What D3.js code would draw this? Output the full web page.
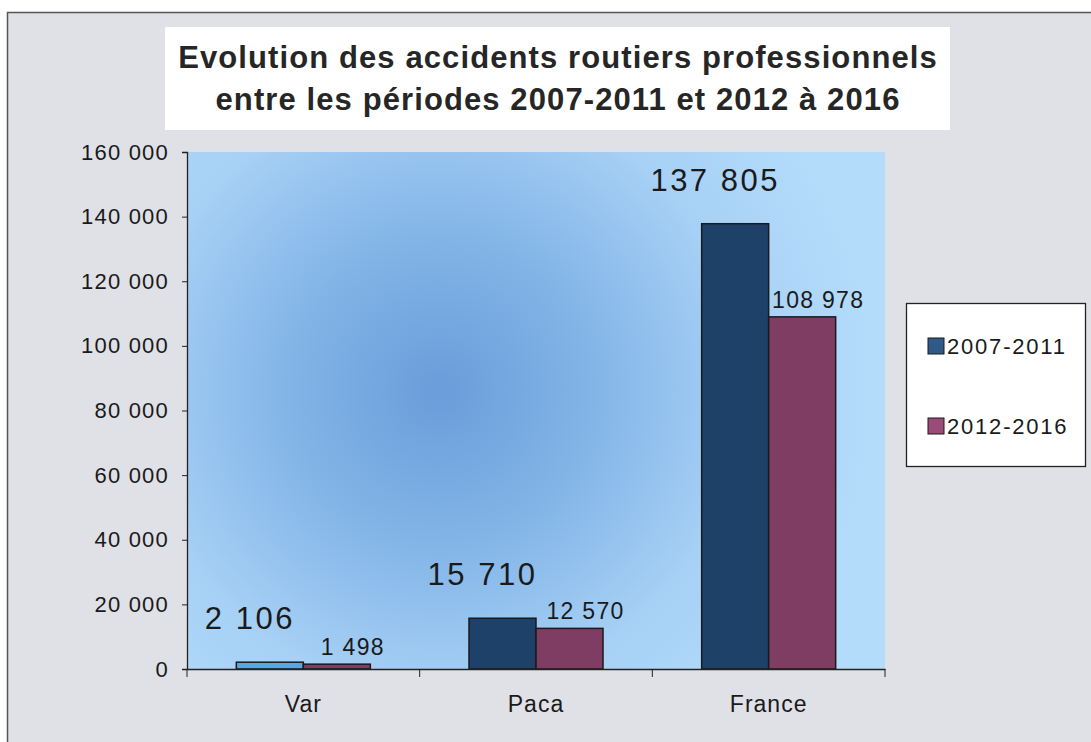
<!DOCTYPE html>
<html>
<head>
<meta charset="utf-8">
<script src="https://cdn.jsdelivr.net/npm/d3@7.9.0/dist/d3.min.js"></script>
<style>
  body { margin: 0; background: #fff; }
  svg { display: block; font-family: "Liberation Sans", Arial, sans-serif; }
</style>
</head>
<body>
<svg id="chart" width="1091" height="742"></svg>
<script>
const categories = ['Var', 'Paca', 'France'];
const series = ['2007-2011', '2012-2016'];
const values2007 = [2106, 15710, 137805];
const values2012 = [1498, 12570, 108978];
const yTicks = [0, 20000, 40000, 60000, 80000, 100000, 120000, 140000, 160000];
const titleLines = ['Evolution des accidents routiers professionnels', 'entre les périodes 2007-2011 et 2012 à 2016'];

const colors = ['#1e4169', '#7f3d63'];
const legendColors = ['#2f5a88', '#9a4b78'];

const svg = d3.select('#chart');
const font = '"Liberation Sans", Arial, sans-serif';

// fond gris + cadre
svg.append('rect')
  .attr('x', 7.5).attr('y', 12.5)
  .attr('width', 1100).attr('height', 740)
  .attr('fill', '#dfe1e6')
  .attr('stroke', '#555').attr('stroke-width', 1.5);

const margin = { left: 187, right: 885, top: 152, bottom: 669 };

const x0 = d3.scaleBand().domain(categories).range([margin.left, margin.right]);
const barW = 67;
const x1 = d3.scaleBand().domain(series).range([0, barW * 2]);
const y = d3.scaleLinear().domain([0, 160000]).range([margin.bottom, margin.top]);

// fond du graphique en dégradé radial
const defs = svg.append('defs');
const grad = defs.append('radialGradient')
  .attr('id', 'plotbg')
  .attr('gradientUnits', 'userSpaceOnUse')
  .attr('cx', 440).attr('cy', 390).attr('r', 430);
grad.append('stop').attr('offset', '0%').attr('stop-color', '#6a9dd9');
grad.append('stop').attr('offset', '35%').attr('stop-color', '#82b4e7');
grad.append('stop').attr('offset', '70%').attr('stop-color', '#a6d0f5');
grad.append('stop').attr('offset', '100%').attr('stop-color', '#b3dbfa');

svg.append('rect')
  .attr('x', margin.left).attr('y', margin.top)
  .attr('width', margin.right - margin.left)
  .attr('height', margin.bottom - margin.top)
  .attr('fill', 'url(#plotbg)');

// titre
svg.append('rect')
  .attr('x', 165).attr('y', 27)
  .attr('width', 785).attr('height', 103)
  .attr('fill', '#fff');
svg.append('g').selectAll('text')
  .data(titleLines)
  .join('text')
  .attr('x', 558)
  .attr('y', (d, i) => 68 + i * 42)
  .attr('text-anchor', 'middle')
  .attr('font-size', 31)
  .attr('font-weight', 'bold')
  .attr('letter-spacing', 1.1)
  .attr('fill', '#262626')
  .text(d => d);

// axes
const fmt = d => d3.format(',')(d).replace(/,/g, ' ');
const yAxis = svg.append('g')
  .attr('transform', `translate(${margin.left},0)`)
  .call(d3.axisLeft(y).tickValues(yTicks).tickSize(5).tickPadding(13).tickFormat(fmt));
yAxis.select('.domain').attr('stroke', '#222').attr('stroke-width', 1.3);
yAxis.selectAll('.tick line').attr('stroke', '#222');
yAxis.selectAll('text')
  .attr('font-size', 22).attr('letter-spacing', 1.2)
  .attr('fill', '#1a1a1a').attr('font-family', font);

// barres
const rows = categories.map((c, i) => ({ cat: c, vals: [values2007[i], values2012[i]] }));
const groups = svg.append('g').selectAll('g')
  .data(rows)
  .join('g')
  .attr('transform', d => `translate(${x0(d.cat) + (x0.bandwidth() - barW * 2) / 2},0)`);

groups.selectAll('rect')
  .data(d => d.vals.map((v, j) => ({ cat: d.cat, s: series[j], j, v })))
  .join('rect')
  .attr('x', d => x1(d.s))
  .attr('y', d => y(d.v))
  .attr('width', x1.bandwidth())
  .attr('height', d => y(0) - y(d.v))
  .attr('fill', d => (d.cat === 'Var' && d.j === 0) ? '#5aa6e0' : colors[d.j])
  .attr('stroke', '#1a1a1a')
  .attr('stroke-width', 1.5);

// étiquettes de valeurs
groups.selectAll('text')
  .data(d => d.vals.map((v, j) => ({ s: series[j], j, v })))
  .join('text')
  .attr('x', d => x1(d.s) + x1.bandwidth() / 2 + (d.j === 0 ? -20 : 16))
  .attr('y', d => y(d.v) - (d.j === 0 ? 33 : 9))
  .attr('text-anchor', 'middle')
  .attr('font-size', d => d.j === 0 ? 31 : 23)
  .attr('letter-spacing', d => d.j === 0 ? 2.5 : 1.3)
  .attr('fill', '#1a1a1a')
  .text(d => fmt(d.v));

// axe x
const xAxis = svg.append('g')
  .attr('transform', `translate(0,${margin.bottom})`)
  .call(d3.axisBottom(x0).tickSize(0).tickPadding(27));
xAxis.select('.domain').attr('stroke', '#222').attr('stroke-width', 1.3);
xAxis.selectAll('text')
  .attr('font-size', 23).attr('letter-spacing', 1)
  .attr('fill', '#1a1a1a').attr('font-family', font);
svg.append('g').selectAll('line')
  .data(categories.concat(['end']))
  .join('line')
  .attr('x1', (d, i) => i < categories.length ? x0(d) : margin.right)
  .attr('x2', (d, i) => i < categories.length ? x0(d) : margin.right)
  .attr('y1', margin.bottom)
  .attr('y2', margin.bottom + 8)
  .attr('stroke', '#222');

// légende
const legend = svg.append('g');
legend.append('rect')
  .attr('x', 906.5).attr('y', 303.5)
  .attr('width', 179).attr('height', 163)
  .attr('fill', '#fff')
  .attr('stroke', '#222').attr('stroke-width', 1.3);
const items = legend.selectAll('g')
  .data(series)
  .join('g')
  .attr('transform', (d, i) => `translate(928,${338 + i * 80})`);
items.append('rect')
  .attr('width', 16).attr('height', 16)
  .attr('fill', (d, i) => legendColors[i])
  .attr('stroke', '#1a1a1a');
items.append('text')
  .attr('x', 19).attr('y', 16)
  .attr('font-size', 22)
  .attr('letter-spacing', 1.8)
  .attr('fill', '#1a1a1a')
  .text(d => d);
</script>
</body>
</html>
